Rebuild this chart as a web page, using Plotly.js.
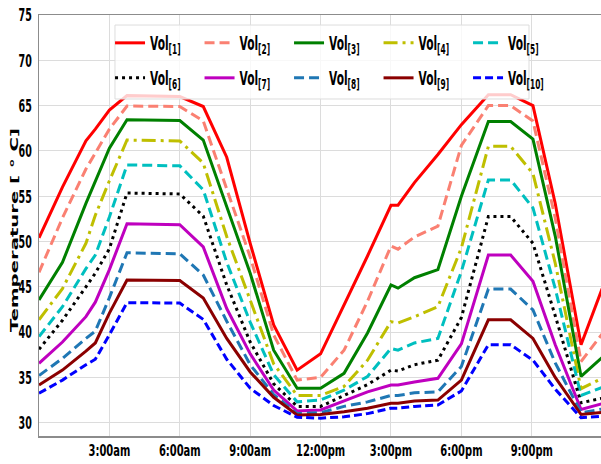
<!DOCTYPE html>
<html>
<head>
<meta charset="utf-8">
<script src="https://cdn.plot.ly/plotly-3.0.1.min.js"></script>
<style>
html,body{margin:0;padding:0;background:#fff;}
#chart{width:601px;height:464px;}
/* the reference's legend lettering is tall and narrow */
#chart text.legendtext, #chart text.legend2text{transform-box:fill-box;transform-origin:0% 50%;transform:scaleX(0.56);}
</style>
</head>
<body>
<div id="chart"></div>
<script>
// hours of day (0 = midnight)
const hours = [0, 1, 2, 2.4, 3, 3.75, 6, 7, 8, 9, 10, 11, 12, 13, 14, 15, 15.3, 16, 17, 18, 19.15, 20.1, 21.05, 22, 23.1, 24];

const vol1  = [50.4, 56.0, 61.1, 62.4, 64.5, 66.1, 66.0, 64.9, 59.3, 49.8, 40.8, 35.8, 37.6, 43.0, 48.4, 54.0, 54.0, 56.5, 59.6, 62.9, 66.2, 66.2, 65.0, 54.2, 38.6, 44.8];
const vol2  = [46.6, 52.6, 58.0, 59.8, 62.4, 64.95, 64.9, 63.3, 55.7, 48.3, 39.7, 34.7, 35.0, 38.0, 43.4, 49.5, 49.15, 50.5, 51.7, 60.6, 65.0, 65.0, 63.3, 52.6, 36.75, 39.8];
const vol3  = [43.55, 47.7, 54.2, 56.6, 60.3, 63.45, 63.35, 61.2, 53.9, 46.5, 38.0, 33.8, 33.8, 35.45, 39.9, 45.2, 44.85, 46.0, 46.9, 55.0, 63.25, 63.25, 61.3, 50.6, 35.1, 37.2];
const vol4  = [41.35, 44.8, 49.8, 52.9, 56.7, 61.2, 61.1, 58.65, 50.55, 43.5, 36.5, 33.0, 33.0, 34.0, 36.9, 41.15, 41.0, 41.7, 42.8, 49.3, 60.5, 60.5, 57.5, 47.6, 33.75, 34.9];
const vol5  = [39.5, 42.8, 47.0, 48.5, 52.7, 58.45, 58.35, 55.7, 47.7, 41.1, 35.3, 32.3, 32.5, 33.6, 35.1, 38.2, 38.0, 38.8, 39.3, 46.7, 56.8, 56.8, 53.7, 44.8, 33.0, 33.9];
const vol6  = [38.1, 41.3, 45.0, 46.5, 49.2, 55.35, 55.25, 52.8, 45.2, 38.9, 34.3, 31.8, 31.8, 33.0, 34.2, 35.8, 35.7, 36.4, 36.9, 41.6, 52.75, 52.75, 49.8, 41.8, 32.2, 32.7];
const vol7  = [36.55, 38.9, 41.7, 43.3, 46.9, 51.95, 51.85, 49.4, 42.6, 37.6, 33.6, 31.3, 31.4, 32.4, 33.4, 34.15, 34.15, 34.5, 34.9, 38.7, 48.5, 48.5, 45.6, 38.6, 31.45, 32.1];
const vol8  = [35.2, 37.1, 39.3, 40.1, 43.8, 48.75, 48.65, 46.3, 41.2, 36.4, 33.1, 31.0, 31.1, 31.8, 32.3, 33.0, 33.0, 33.3, 33.4, 36.2, 44.75, 44.75, 42.45, 36.6, 31.1, 31.5];
const vol9  = [34.15, 35.8, 37.9, 38.8, 42.1, 45.75, 45.7, 43.75, 39.3, 35.6, 32.8, 30.85, 30.9, 31.2, 31.6, 32.15, 32.15, 32.4, 32.5, 34.7, 41.35, 41.35, 39.3, 35.0, 30.9, 31.15];
const vol10 = [33.25, 34.7, 36.4, 37.0, 39.7, 43.25, 43.2, 41.4, 37.0, 33.8, 31.9, 30.6, 30.5, 30.65, 31.0, 31.6, 31.6, 31.8, 31.95, 33.5, 38.6, 38.6, 36.9, 33.7, 30.55, 30.7];

const seriesNames = ["Vol<sub>[1]</sub>","Vol<sub>[2]</sub>","Vol<sub>[3]</sub>","Vol<sub>[4]</sub>","Vol<sub>[5]</sub>",
                     "Vol<sub>[6]</sub>","Vol<sub>[7]</sub>","Vol<sub>[8]</sub>","Vol<sub>[9]</sub>","Vol<sub>[10]</sub>"];
const seriesValues = [vol1, vol2, vol3, vol4, vol5, vol6, vol7, vol8, vol9, vol10];

const xTickVals = [3, 6, 9, 12, 15, 18, 21];
const xTickText = ["3:00am", "6:00am", "9:00am", "12:00pm", "3:00pm", "6:00pm", "9:00pm"];
const yTickVals = [30, 35, 40, 45, 50, 55, 60, 65, 70, 75];
const yTitle = "Temperature [ ° C]";

const colors = ["#ff0000", "#fa8072", "#008000", "#bfbf00", "#00bfbf", "#000000", "#bf00bf", "#1f77b4", "#8b0000", "#0000ff"];
const dashes = ["solid", "10px,5px", "solid", "14px,5px,3px,5px", "10px,5px", "3px,4px", "solid", "10px,5px", "solid", "8px,4px"];

const FONT = "DejaVu Sans, sans-serif";
const FONT_NARROW = "DejaVu Sans Condensed, DejaVu Sans, sans-serif";

const traces = seriesValues.map((vals, i) => ({
  x: hours, y: vals, type: "scatter", mode: "lines",
  name: seriesNames[i],
  legend: i < 5 ? "legend" : "legend2",
  line: {color: colors[i], width: 3, dash: dashes[i]},
  hoverinfo: "skip"
}));

function legendBox(x, y) {
  return {
    x: x, y: y,
    orientation: "h", xanchor: "left", yanchor: "middle",
    bgcolor: "rgba(0,0,0,0)", borderwidth: 0,
    entrywidth: 44.5, entrywidthmode: "pixels",
    font: {family: FONT, size: 19, color: "#000", weight: "bold"},
    itemwidth: 30, tracegroupgap: 0
  };
}

const layout = {
  width: 601, height: 464,
  margin: {l: 39, r: 0, t: 15, b: 28, pad: 0},
  paper_bgcolor: "#ffffff", plot_bgcolor: "#ffffff",
  showlegend: true,
  xaxis: {
    range: [0, 23.95], tickvals: xTickVals, ticktext: xTickText, tickangle: 0,
    showgrid: true, gridcolor: "#dcdcdc", gridwidth: 1,
    zeroline: false, showline: true, mirror: true, linecolor: "#8c8c8c", linewidth: 1.5,
    ticks: "", ticklabelstandoff: -1, automargin: false,
    tickfont: {family: FONT_NARROW, size: 16.5, color: "#000", weight: "bold"}
  },
  yaxis: {
    range: [28.53, 75], tickvals: yTickVals,
    showgrid: true, gridcolor: "#dcdcdc", gridwidth: 1,
    zeroline: false, showline: true, mirror: true, linecolor: "#8c8c8c", linewidth: 1.5,
    ticks: "", ticklabelstandoff: 2, automargin: false,
    tickfont: {family: FONT, size: 18, color: "#000", weight: "bold"}
  },
  annotations: [{
    text: yTitle, xref: "paper", yref: "paper",
    x: -0.0445, y: 0.489, xanchor: "center", yanchor: "middle",
    textangle: -90, showarrow: false,
    font: {family: FONT, size: 11, color: "#000", weight: "bold"}
  }],
  shapes: [{
    type: "rect", xref: "paper", yref: "paper", layer: "above",
    x0: 0.1352, x1: 0.8719, y0: 0.8005, y1: 0.9762,
    fillcolor: "rgba(255,255,255,0.8)", line: {color: "#dddddd", width: 1}
  }],
  legend: legendBox(0.1264, 0.9335),
  legend2: legendBox(0.1264, 0.8504)
};

// the reference's tick lettering is tall and narrow: compress glyphs horizontally
function squish(sel, k) {
  document.querySelectorAll(sel).forEach(function (t) {
    if (t.getAttribute("data-squished") === t.textContent) return;
    t.removeAttribute("textLength");
    var w = t.getComputedTextLength();
    if (w > 0) {
      t.setAttribute("textLength", (w * k).toFixed(2));
      t.setAttribute("lengthAdjust", "spacingAndGlyphs");
      t.setAttribute("data-squished", t.textContent);
    }
  });
}
function squishAll() {
  squish(".xtick text", 0.67);
  squish(".ytick text", 0.53);
  document.querySelectorAll(".annotation-text").forEach(function (t) {
    t.setAttribute("textLength", "204");
    t.setAttribute("lengthAdjust", "spacingAndGlyphs");
  });
}

const gd = document.getElementById("chart");
const p = Plotly.newPlot(gd, traces, layout, {displayModeBar: false, staticPlot: true});
squishAll();
p.then(function () {
  squishAll();
  gd.on("plotly_afterplot", squishAll);
  setTimeout(squishAll, 30);
});
</script>
</body>
</html>
